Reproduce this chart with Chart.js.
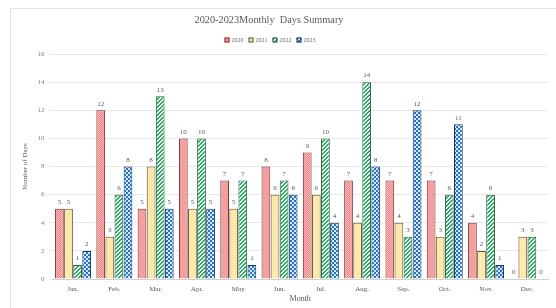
<!DOCTYPE html>
<html><head><meta charset="utf-8">
<script src="https://cdn.jsdelivr.net/npm/chart.js@4/dist/chart.umd.min.js"></script>
<style>
html,body{margin:0;padding:0;background:#fff;}
#frame{position:absolute;left:10px;top:8px;width:560px;height:320px;border:1px solid #e2e2e2;}
#wrap{position:absolute;left:0;top:0;width:556px;height:308px;}
</style></head><body>
<div id="frame"></div>
<div id="wrap"><canvas id="c" width="556" height="308"></canvas></div>
<script>
const chartTitle = '2020-2023Monthly  Days Summary';
const months = ['Jan.','Feb.','Mar.','Apr.','May','Jun.','Jul.','Aug.','Sep.','Oct.','Nov.','Dec.'];
const seriesNames = ['2020','2021','2022','2023'];
const days2020 = [5,12,5,10,7,8,9,7,7,7,4,0];
const days2021 = [5,3,8,5,5,6,6,4,4,3,2,3];
const days2022 = [1,6,13,10,7,7,10,14,3,6,6,3];
const days2023 = [2,8,5,5,1,6,4,8,12,11,1,0];
const yTicks = [0,2,4,6,8,10,12,14,16];

function mkPattern(size, draw){
  const c = document.createElement('canvas'); c.width=size; c.height=size;
  const g = c.getContext('2d'); draw(g,size);
  return document.getElementById('c').getContext('2d').createPattern(c,'repeat');
}
const pRed = mkPattern(2,(g,s)=>{g.fillStyle='#f28c8c';g.fillRect(0,0,s,s);g.fillStyle='#f7b3b3';g.fillRect(0,0,1,1);g.fillRect(1,1,1,1);});
const pYel = mkPattern(2,(g,s)=>{g.fillStyle='#fbe6a4';g.fillRect(0,0,s,s);g.fillStyle='#fdf0c4';g.fillRect(0,0,1,1);});
const pGrn = mkPattern(4,(g,s)=>{g.fillStyle='#e8f8ee';g.fillRect(0,0,s,s);g.fillStyle='#2ea866';for(let i=0;i<s;i++){for(let k=0;k<2;k++){g.fillRect((i+k)%s,s-1-i,1,1);}}});
const pBlu = mkPattern(4,(g,s)=>{g.fillStyle='#2774c6';g.fillRect(0,0,s,s);g.fillStyle='#d2e8fb';g.fillRect(0,0,2,2);g.fillRect(2,2,2,2);});

const fills = [pRed,pYel,pGrn,pBlu];
const borders = ['#7a3030','#5e5230','#2c5a3c','#1c3358'];
const values = [days2020,days2021,days2022,days2023];

const FONT = '"Liberation Serif"';
const decoPlugin = {
  id:'deco',
  afterDraw(chart){
    const ctx = chart.ctx;
    ctx.save();
    ctx.font = '10.3px ' + FONT;
    ctx.fillStyle = '#595959';
    ctx.textAlign = 'center';
    ctx.textBaseline = 'middle';
    ctx.fillText(chartTitle, 269, 20);
    ctx.font = '6px ' + FONT;
    ctx.textAlign = 'left';
    const box = 5, gapBox = 2, gapItem = 5;
    const widths = chart.data.datasets.map(d => box + gapBox + ctx.measureText(d.label).width);
    const total = widths.reduce((a,b)=>a+b,0) + gapItem*(widths.length-1);
    let x = 270 - total/2;
    const y = 40;
    chart.data.datasets.forEach((d,i)=>{
      ctx.fillStyle = d.backgroundColor;
      ctx.fillRect(x, y-box/2, box, box);
      ctx.strokeStyle = d.borderColor; ctx.lineWidth = 1;
      ctx.strokeRect(x+0.5, y-box/2+0.5, box-1, box-1);
      ctx.fillStyle = '#666';
      ctx.fillText(d.label, x+box+gapBox, y+0.5);
      x += widths[i] + gapItem;
    });
    ctx.restore();
  },
  afterDatasetsDraw(chart){
    const ctx = chart.ctx;
    ctx.save();
    ctx.font = '7px ' + FONT;
    ctx.fillStyle = '#595959';
    ctx.textAlign = 'center';
    ctx.textBaseline = 'bottom';
    chart.data.datasets.forEach((ds,di)=>{
      const meta = chart.getDatasetMeta(di);
      meta.data.forEach((bar,i)=>{
        ctx.fillText(String(ds.data[i]), bar.x, bar.y - 3);
      });
    });
    ctx.restore();
  }
};

new Chart(document.getElementById('c'),{
  type:'bar',
  data:{
    labels: months,
    datasets: seriesNames.map((n,i)=>({
      label:n, data:values[i], backgroundColor:fills[i], borderColor:borders[i], borderWidth:1,
      categoryPercentage:0.88, barPercentage:0.96
    }))
  },
  options:{
    responsive:false, animation:false,
    layout:{padding:{left:21,right:8,top:54,bottom:4}},
    plugins:{
      title:{display:false},
      legend:{display:false},
      tooltip:{enabled:false}
    },
    scales:{
      x:{
        grid:{display:false,drawTicks:false},
        border:{color:'#d0d0d0'},
        ticks:{color:'#595959',font:{family:'Liberation Serif',size:7},padding:6},
        title:{display:true,text:'Month',color:'#595959',font:{family:'Liberation Serif',size:8},padding:{top:-5,bottom:0}}
      },
      y:{
        min:0,max:16,
        afterBuildTicks(ax){ax.ticks = yTicks.map(v=>({value:v}));},
        grid:{color:'#e8e8e8',tickLength:3},
        border:{display:false},
        ticks:{color:'#808080',font:{family:'Liberation Serif',size:7},padding:5},
        title:{display:true,text:'Number of Days',color:'#595959',font:{family:'Liberation Serif',size:7},padding:{top:0,bottom:3}}
      }
    }
  },
  plugins:[decoPlugin]
});
</script></body></html>
